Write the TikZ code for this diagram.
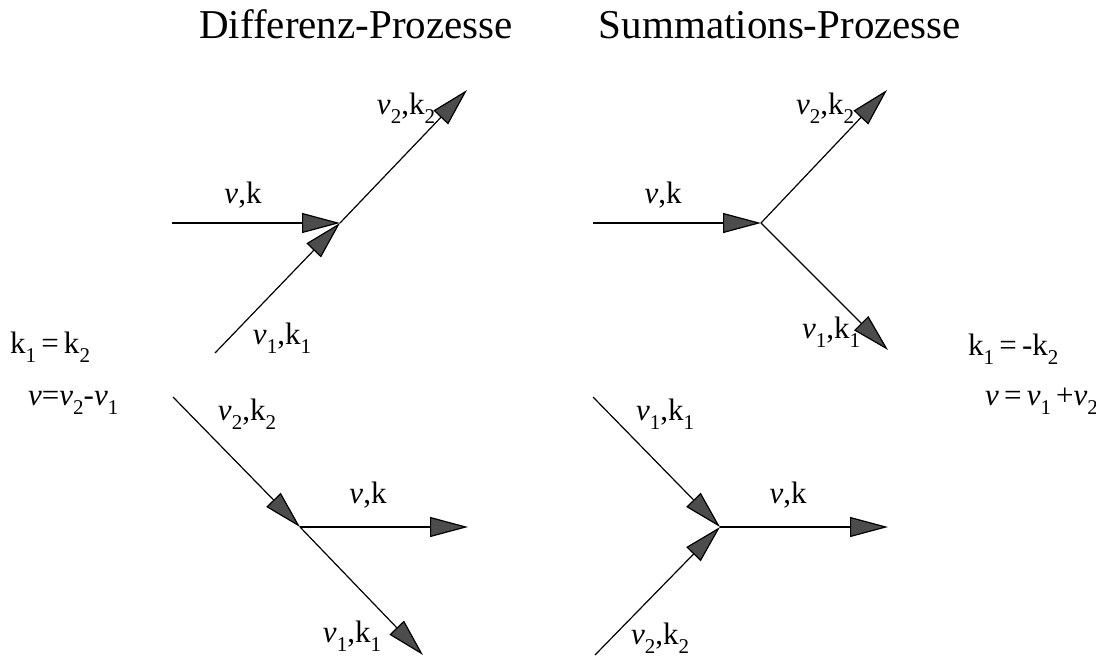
\documentclass[tikz,border=0pt]{standalone}
\usepackage{fontspec}
\setmainfont{Liberation Serif}
\usetikzlibrary{arrows.meta}
\newcommand\lo[1]{\raisebox{-0.3em}{\fontsize{21}{21}\selectfont #1}}
\newcommand\nuu{\textit{ν}}
\begin{document}
\begin{tikzpicture}[x=1pt,y=-1pt,
  ln/.style={line width=1.2pt},
  arr/.style={ln,-{Triangle[length=38pt,width=20pt,fill=black!70]}},
  lbl/.style={font=\fontsize{31}{31}\selectfont,inner sep=0pt},
  eqn/.style={font=\fontsize{31}{31}\selectfont,inner sep=0pt,anchor=base west},
  ttl/.style={font=\fontsize{41}{41}\selectfont,inner sep=0pt,anchor=base}]
\useasboundingbox (0,0) rectangle (1096,656);
% titles
\node[ttl] (t1) at (356,38) {Differenz-Prozesse};
\node[ttl] (t2) at (780,38) {Summations-Prozesse};
% diagram 1
\coordinate (a0) at (172,223);
\coordinate (aj) at (340,223);
\coordinate (a1) at (215,353);
\coordinate (a2) at (467,90);
\draw[arr] (a0) -- (aj);
\draw[arr] (a1) -- (aj);
\draw[arr] (aj) -- (a2);
\node[lbl] (la) at (243,195) {\nuu,k};
\node[lbl] (la2) at (406,108) {\nuu\lo{2},k\lo{2}};
\node[lbl] (la1) at (282,338) {\nuu\lo{1},k\lo{1}};
% diagram 2
\coordinate (b0) at (593,223);
\coordinate (bj) at (761,223);
\coordinate (b2) at (887,90);
\coordinate (b1) at (888,350);
\draw[arr] (b0) -- (bj);
\draw[arr] (bj) -- (b2);
\draw[arr] (bj) -- (b1);
\node[lbl] (lb) at (663,195) {\nuu,k};
\node[lbl] (lb2) at (825,108) {\nuu\lo{2},k\lo{2}};
\node[lbl] (lb1) at (831,332) {\nuu\lo{1},k\lo{1}};
% diagram 3
\coordinate (c2) at (173,397);
\coordinate (cj) at (300,527);
\coordinate (c1) at (423,655);
\coordinate (c0) at (468,527);
\draw[arr] (c2) -- (cj);
\draw[arr] (cj) -- (c1);
\draw[arr] (cj) -- (c0);
\node[lbl] (lc2) at (247,414) {\nuu\lo{2},k\lo{2}};
\node[lbl] (lc) at (368,495) {\nuu,k};
\node[lbl] (lc1) at (352,636) {\nuu\lo{1},k\lo{1}};
% diagram 4
\coordinate (d1) at (593,397);
\coordinate (d2) at (595,655);
\coordinate (dj) at (720,527);
\coordinate (d0) at (888,527);
\draw[arr] (d1) -- (dj);
\draw[arr] (d2) -- (dj);
\draw[arr] (dj) -- (d0);
\node[lbl] (ld1) at (665,414) {\nuu\lo{1},k\lo{1}};
\node[lbl] (ld) at (788,495) {\nuu,k};
\node[lbl] (ld2) at (660,638) {\nuu\lo{2},k\lo{2}};
% relations
\node[eqn] (e1) at (10,353) {k\lo{1}\,=\,k\lo{2}};
\node[eqn] (e2) at (28,405) {\nuu=\nuu\lo{2}-\nuu\lo{1}};
\node[eqn] (e3) at (968,355) {k\lo{1}\,=\,-k\lo{2}};
\node[eqn] (e4) at (985,405) {\nuu\,=\,\nuu\lo{1}\,+\nuu\lo{2}};
\end{tikzpicture}
\end{document}
